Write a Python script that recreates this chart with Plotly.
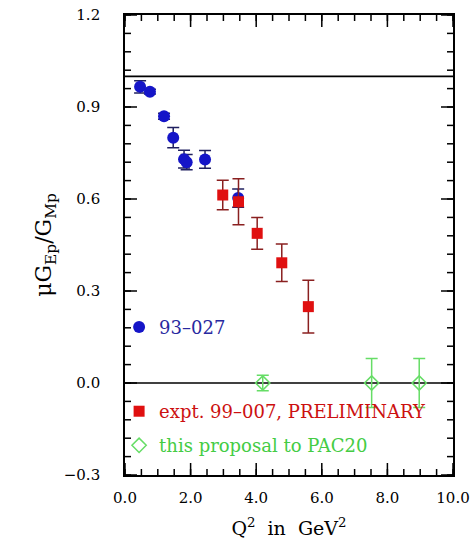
import plotly.graph_objects as go

# --- data ---
q2_93027 = [0.46, 0.76, 1.19, 1.47, 1.80, 1.88, 2.44, 3.45]
r_93027 = [0.966, 0.950, 0.870, 0.800, 0.730, 0.720, 0.729, 0.603]
e_93027 = [0.020, 0.008, 0.010, 0.033, 0.029, 0.025, 0.029, 0.030]

q2_99007 = [2.98, 3.46, 4.03, 4.78, 5.59]
r_99007 = [0.613, 0.591, 0.488, 0.392, 0.249]
e_99007 = [0.048, 0.075, 0.052, 0.061, 0.086]

q2_pac20 = [4.20, 7.52, 8.97]
r_pac20 = [0.0, 0.0, 0.0]
e_pac20 = [0.025, 0.080, 0.080]

ref_lines = [1.0, 0.0]
x_range = [0, 10]
y_range = [-0.3, 1.2]
x_major, x_minor = 2.0, 0.5
y_major, y_minor = 0.3, 0.06

label_93027 = "93\u2013027"
label_99007 = "expt. 99\u2013007, PRELIMINARY"
label_pac20 = "this proposal to PAC20"

FONT = "DejaVu Serif"
BLUE = "#1515c8"
RED = "#e01010"
GREEN = "#66dd66"

W, H = 475, 549
ML, MR, MT, MB = 125, 22, 15, 74
PW, PH = W - ML - MR, H - MT - MB
X_PER_PX = (x_range[1] - x_range[0]) / PW
Y_PER_PX = (y_range[1] - y_range[0]) / PH


def tick_positions(lo, hi, step):
    n = int(round((hi - lo) / step))
    return [round(lo + i * step, 6) for i in range(n + 1)]


# inward frame ticks built from the axis tick spacing (one line trace with gaps)
tx, ty = [], []
for step, length in ((x_minor, 6), (x_major, 12)):
    dy = length * Y_PER_PX
    for xv in tick_positions(x_range[0], x_range[1], step):
        tx += [xv, xv, None, xv, xv, None]
        ty += [y_range[0], y_range[0] + dy, None, y_range[1], y_range[1] - dy, None]
for step, length in ((y_minor, 6), (y_major, 12)):
    dx = length * X_PER_PX
    for yv in tick_positions(y_range[0], y_range[1], step):
        tx += [x_range[0], x_range[0] + dx, None, x_range[1], x_range[1] - dx, None]
        ty += [yv, yv, None, yv, yv, None]

fig = go.Figure()

fig.add_trace(go.Scatter(x=tx, y=ty, mode="lines", line=dict(color="black", width=1.5),
                         showlegend=False, hoverinfo="skip", connectgaps=False))

for yv in ref_lines:
    fig.add_trace(go.Scatter(x=x_range, y=[yv, yv], mode="lines",
                             line=dict(color="black", width=1.6),
                             showlegend=False, hoverinfo="skip"))

fig.add_trace(go.Scatter(
    x=q2_pac20, y=r_pac20, mode="markers", name=label_pac20,
    marker=dict(symbol="diamond-open", size=11, color=GREEN, line=dict(width=1.5)),
    error_y=dict(type="data", array=e_pac20, color=GREEN, thickness=1.5, width=6),
    legend="legend3"))

fig.add_trace(go.Scatter(
    x=q2_93027, y=r_93027, mode="markers", name=label_93027,
    marker=dict(symbol="circle", size=12, color=BLUE),
    error_y=dict(type="data", array=e_93027, color="#202060", thickness=1.5, width=6),
    legend="legend"))

fig.add_trace(go.Scatter(
    x=q2_99007, y=r_99007, mode="markers", name=label_99007,
    marker=dict(symbol="square", size=11, color=RED),
    error_y=dict(type="data", array=e_99007, color="#8a2020", thickness=1.5, width=6),
    legend="legend2"))

tickfont = dict(family=FONT, size=15, color="black")

fig.update_layout(
    xaxis=dict(range=x_range, dtick=x_major, tick0=0, tickformat=".1f",
               showline=True, linecolor="black", linewidth=1.6, mirror=True,
               ticks="", showgrid=False, zeroline=False,
               tickfont=tickfont, ticklabelstandoff=8,
               title=dict(text="Q<sup>2</sup>  in  GeV<sup>2</sup>",
                          font=dict(family=FONT, size=19, color="black"), standoff=16)),
    yaxis=dict(range=y_range, dtick=y_major, tick0=0, tickformat=".1f",
               showline=True, linecolor="black", linewidth=1.6, mirror=True,
               ticks="", showgrid=False, zeroline=False,
               tickfont=tickfont, ticklabelstandoff=20,
               title=dict(text="\u03bcG<sub>Ep</sub>/G<sub>Mp</sub>",
                          font=dict(family=FONT, size=22, color="black"), standoff=6)),
)

leg_common = dict(bgcolor="rgba(0,0,0,0)", borderwidth=0, xanchor="left",
                  yanchor="middle", x=-0.018, itemwidth=30)

fig.update_layout(
    width=W, height=H,
    margin=dict(l=ML, r=MR, t=MT, b=MB, autoexpand=False),
    paper_bgcolor="white", plot_bgcolor="white",
    legend=dict(y=0.321, font=dict(family=FONT, size=18, color="#2828a0"), **leg_common),
    legend2=dict(y=0.138, font=dict(family=FONT, size=18, color="#cc1010"), **leg_common),
    legend3=dict(y=0.064, font=dict(family=FONT, size=18, color="#44cc44"), **leg_common),
)

fig.write_html("out.html", config={"displayModeBar": False},
               post_script="document.body.style.margin='0';")
